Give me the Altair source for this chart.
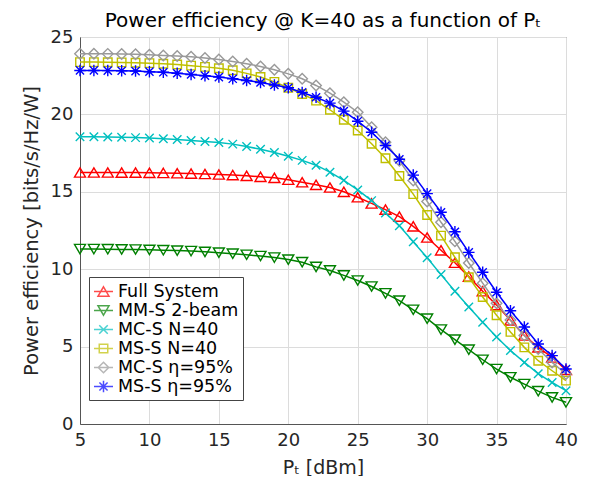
import altair as alt
import pandas as pd

# ---------------- data ----------------
p_t = list(range(5, 41))

series_names = ["Full System", "MM-S 2-beam", "MC-S N=40", "MS-S N=40",
                "MC-S η=95%", "MS-S η=95%"]

full_system = [16.25, 16.25, 16.25, 16.24, 16.24, 16.23, 16.22, 16.20, 16.18, 16.15,
               16.12, 16.08, 16.03, 15.97, 15.90, 15.78, 15.62, 15.45, 15.28, 15.00,
               14.65, 14.25, 13.85, 13.40, 12.77, 12.05, 11.22, 10.42, 9.52, 8.58,
               7.68, 6.70, 5.72, 4.95, 4.30, 3.50]
mm_s_2beam = [11.30, 11.30, 11.29, 11.28, 11.27, 11.25, 11.23, 11.20, 11.17, 11.12,
              11.07, 11.00, 10.93, 10.85, 10.75, 10.62, 10.45, 10.15, 9.92, 9.60,
              9.27, 8.88, 8.44, 7.97, 7.38, 6.80, 6.10, 5.45, 4.80, 4.15,
              3.55, 3.02, 2.58, 2.12, 1.72, 1.40]
mc_s_n40 = [18.55, 18.55, 18.54, 18.52, 18.50, 18.47, 18.43, 18.38, 18.32, 18.25,
            18.18, 18.08, 17.92, 17.75, 17.54, 17.30, 17.03, 16.72, 16.27, 15.74,
            15.12, 14.43, 13.63, 12.80, 11.78, 10.74, 9.65, 8.58, 7.56, 6.57,
            5.62, 4.75, 3.98, 3.25, 2.68, 2.15]
ms_s_n40 = [23.38, 23.38, 23.37, 23.36, 23.34, 23.31, 23.27, 23.22, 23.15, 23.07,
            22.98, 22.85, 22.65, 22.42, 22.10, 21.72, 21.32, 20.89, 20.30, 19.65,
            18.96, 18.10, 17.17, 16.02, 14.85, 13.50, 12.17, 10.77, 9.48, 8.20,
            7.03, 5.95, 4.95, 4.09, 3.44, 2.80]
mc_s_eta95 = [23.92, 23.92, 23.91, 23.90, 23.88, 23.85, 23.81, 23.77, 23.72, 23.65,
              23.55, 23.42, 23.27, 23.10, 22.88, 22.62, 22.30, 21.87, 21.37, 20.79,
              20.14, 19.17, 18.20, 17.00, 15.73, 14.38, 13.03, 11.80, 10.40, 9.10,
              7.80, 6.72, 5.71, 4.85, 3.98, 3.23]
ms_s_eta95 = [22.84, 22.84, 22.83, 22.82, 22.80, 22.76, 22.72, 22.66, 22.58, 22.50,
              22.41, 22.30, 22.19, 22.06, 21.90, 21.72, 21.42, 21.11, 20.73, 20.21,
              19.56, 18.85, 17.99, 17.10, 16.08, 14.88, 13.68, 12.42, 11.09, 9.80,
              8.51, 7.32, 6.27, 5.17, 4.42, 3.55]

x_ticks = [5, 10, 15, 20, 25, 30, 35, 40]
y_ticks = [0, 5, 10, 15, 20, 25]

colors = ["#ff0000", "#008000", "#00bfbf", "#bfbf00", "#999999", "#0000ff"]

all_values = [full_system, mm_s_2beam, mc_s_n40, ms_s_n40, mc_s_eta95, ms_s_eta95]

rows = []
for name, vals in zip(series_names, all_values):
    for x, v in zip(p_t, vals):
        rows.append({"p_t": x, "value": v, "series": name})
df = pd.DataFrame(rows)

# ---------------- marker shapes ----------------
marker_geom = [
    [([(0, -0.85), (1, 0.85), (-1, 0.85)], True)],                 # triangle up
    [([(0, 0.85), (1, -0.85), (-1, -0.85)], True)],                # triangle down
    [([(-1, -1), (1, 1)], False), ([(-1, 1), (1, -1)], False)],    # x
    [([(-1, -1), (1, -1), (1, 1), (-1, 1)], True)],                # square
    [([(0, -1), (1, 0), (0, 1), (-1, 0)], True)],                  # diamond
    [([(0, -1), (0, 1)], False), ([(-1, 0), (1, 0)], False),
     ([(-0.71, -0.71), (0.71, 0.71)], False), ([(-0.71, 0.71), (0.71, -0.71)], False)],  # asterisk
]
marker_px = [11, 11, 8.5, 8.5, 10.5, 11.5]


def to_path(polys, k=1.0):
    parts = []
    for pts, closed in polys:
        s = "M" + "L".join(f"{x * k:.3f},{y * k:.3f}" for x, y in pts)
        if closed:
            s += "Z"
        parts.append(s)
    return "".join(parts)


LEG_PX = 19.0
legend_paths = ["M-1,0L1,0" + to_path(g, mp / LEG_PX) for g, mp in zip(marker_geom, marker_px)]

FONT = "DejaVu Sans"

x_enc = alt.X("p_t:Q", scale=alt.Scale(domain=[5, 40], nice=False),
              axis=alt.Axis(values=x_ticks, title="Pₜ [dBm]", titleFontSize=19))
y_enc = alt.Y("value:Q", scale=alt.Scale(domain=[0, 25], nice=False),
              axis=alt.Axis(values=y_ticks, title="Power efficiency [bits/s/Hz/W]",
                            titleFontSize=19.5))

base = alt.Chart(df)
layers = []
for name, col, geom, mp in zip(series_names, colors, marker_geom, marker_px):
    sub = base.transform_filter(alt.datum.series == name)
    layers.append(sub.mark_line(color=col, strokeWidth=1.5).encode(x=x_enc, y=y_enc))
    layers.append(sub.mark_point(shape=to_path(geom), size=mp * mp, color=col,
                                 filled=False, strokeWidth=1.4, opacity=1).encode(x=x_enc, y=y_enc))

legend_def = alt.Legend(orient="none", legendX=9, legendY=240, title=None, direction="vertical",
                        labelFont=FONT, labelFontSize=17.5, labelColor="#000000",
                        symbolSize=LEG_PX * LEG_PX, symbolStrokeWidth=1.5,
                        padding=4, rowPadding=0, labelOffset=4,
                        strokeColor="#444444", fillColor="white", cornerRadius=0)

legend_layer = base.transform_filter(alt.datum.p_t > 1000).mark_point(
    filled=False, strokeWidth=1.5).encode(
    x=x_enc, y=y_enc,
    stroke=alt.Stroke("series:N", scale=alt.Scale(domain=series_names, range=colors),
                      legend=legend_def),
    shape=alt.Shape("series:N", scale=alt.Scale(domain=series_names, range=legend_paths),
                    legend=legend_def),
)
layers.append(legend_layer)

chart = alt.layer(*layers).properties(
    width=486, height=387,
    title=alt.TitleParams(text="Power efficiency @ K=40 as a function of Pₜ", dy=7),
    autosize=alt.AutoSizeParams(type="none"),
    padding={"left": 72, "top": 29, "right": 20, "bottom": 52},
).configure_view(
    stroke="#555555", strokeWidth=1
).configure_axis(
    domain=True, domainColor="#555555", ticks=False, grid=True, gridColor="#dcdcdc",
    gridWidth=1, labelFont=FONT, labelFontSize=18, labelColor="#262626", labelPadding=7,
    labelFlush=False,
    titleFont=FONT, titleFontWeight="normal", titleColor="#262626",
    titlePadding=9
).configure_title(
    font=FONT, fontSize=20, fontWeight="normal", color="#000000", anchor="middle", offset=0
)

chart.save("out.html", embed_options={"renderer": "svg", "actions": False})
